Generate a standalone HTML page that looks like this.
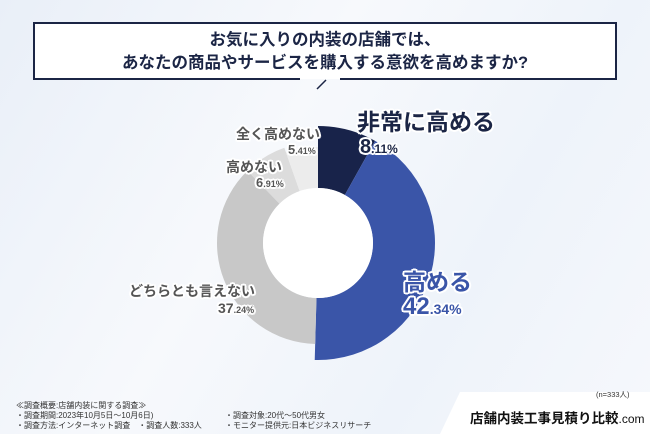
<!DOCTYPE html>
<html><head><meta charset="utf-8"><style>
body{margin:0;width:650px;height:434px;overflow:hidden;font-family:"Liberation Sans","Noto Sans CJK JP",sans-serif;}
#root{position:relative;width:650px;height:434px;background:linear-gradient(120deg,#e9eff8 0%,#f7f9fc 40%,#eef3fa 70%,#f6f8fc 100%);}
.t{position:absolute;white-space:nowrap;}
.o{text-shadow:2px 0 0 #fff,-2px 0 0 #fff,0 2px 0 #fff,0 -2px 0 #fff,1.5px 1.5px 0 #fff,-1.5px 1.5px 0 #fff,1.5px -1.5px 0 #fff,-1.5px -1.5px 0 #fff;}
</style></head><body>
<div id="root">
<svg width="650" height="434" style="position:absolute;left:0;top:0">
<path d="M300 79 H34 V23 H616 V79 H340" fill="#fff" stroke="#1b2545" stroke-width="2"/>
<line x1="317" y1="89" x2="326" y2="80" stroke="#1b2545" stroke-width="1.5"/>
<g id="pie"></g>
<polygon points="440,434 460,392 650,392 650,434" fill="#fff"/>
</svg>
<div class="t" style="left:0;width:650px;top:29px;text-align:center;font-size:16.5px;font-weight:bold;color:#1b2545;line-height:23px">お気に入りの内装の店舗では、<br>あなたの商品やサービスを購入する意欲を高めますか?</div>
<div class="t o" style="left:357px;top:103px;font-size:23px;font-weight:bold;color:#1b2545">非常に高める</div>
<div class="t o" style="left:360px;top:136px;font-size:20px;font-weight:bold;color:#1b2545">8<span style="font-size:12px">.11%</span></div>
<div class="t o" style="left:403px;top:263px;font-size:23px;font-weight:bold;color:#3a55a8">高める</div>
<div class="t o" style="left:403px;top:293px;font-size:24px;font-weight:bold;color:#3a55a8">42<span style="font-size:14px">.34%</span></div>
<div class="t o" style="left:129px;top:281px;font-size:14px;font-weight:bold;color:#555">どちらとも言えない</div>
<div class="t o" style="left:218px;top:300px;font-size:14px;font-weight:bold;color:#555">37<span style="font-size:9px">.24%</span></div>
<div class="t o" style="left:226px;top:157px;font-size:14px;font-weight:bold;color:#555">高めない</div>
<div class="t o" style="left:256px;top:175px;font-size:13px;font-weight:bold;color:#555">6<span style="font-size:9px">.91%</span></div>
<div class="t o" style="left:236px;top:124px;font-size:14px;font-weight:bold;color:#555">全く高めない</div>
<div class="t o" style="left:288px;top:142px;font-size:13px;font-weight:bold;color:#555">5<span style="font-size:9px">.41%</span></div>
<div class="t" style="left:596px;top:389px;font-size:7.5px;color:#333">(n=333人)</div>
<div class="t" style="left:16px;top:401px;font-size:8px;color:#333;line-height:10px">≪調査概要:店舗内装に関する調査≫<br>・調査期間:2023年10月5日～10月6日)<br>・調査方法:インターネット調査　・調査人数:333人</div>
<div class="t" style="left:225px;top:411px;font-size:8px;color:#333;line-height:10px">・調査対象:20代～50代男女<br>・モニター提供元:日本ビジネスリサーチ</div>
<div class="t" style="left:470px;top:407px;font-size:13.5px;font-weight:bold;color:#111">店舗内装工事見積り比較<span style="font-weight:normal;font-size:12px">.com</span></div>
</div>
<script>
const categories=["非常に高める","高める","どちらとも言えない","高めない","全く高めない"];
const values=[8.11,42.34,37.24,6.91,5.41];
const colors=["#18234a","#3a55a8","#c8c8c8","#dcdcdc","#ececec"];
const outerR=[117,117,101,101,96];
const cx=318,cy=243,innerR=55;
const g=document.getElementById('pie');
const total=values.reduce((a,b)=>a+b,0);
let a0=0;
function pt(r,a){return [cx+r*Math.sin(a),cy-r*Math.cos(a)];}
values.forEach((v,i)=>{
 const a1=a0+v/total*2*Math.PI;const R=outerR[i];
 const p1=pt(R,a0),p2=pt(R,a1),p3=pt(innerR,a1),p4=pt(innerR,a0);
 const lg=(a1-a0)>Math.PI?1:0;
 const p=document.createElementNS('http://www.w3.org/2000/svg','path');
 p.setAttribute('d',`M${p1} A${R} ${R} 0 ${lg} 1 ${p2} L${p3} A${innerR} ${innerR} 0 ${lg} 0 ${p4}Z`);
 p.setAttribute('fill',colors[i]);
 
 
 g.appendChild(p);a0=a1;
});
const c=document.createElementNS('http://www.w3.org/2000/svg','circle');
c.setAttribute('cx',cx);c.setAttribute('cy',cy);c.setAttribute('r',innerR);c.setAttribute('fill','#fff');


g.appendChild(c);
</script>
</body></html>
